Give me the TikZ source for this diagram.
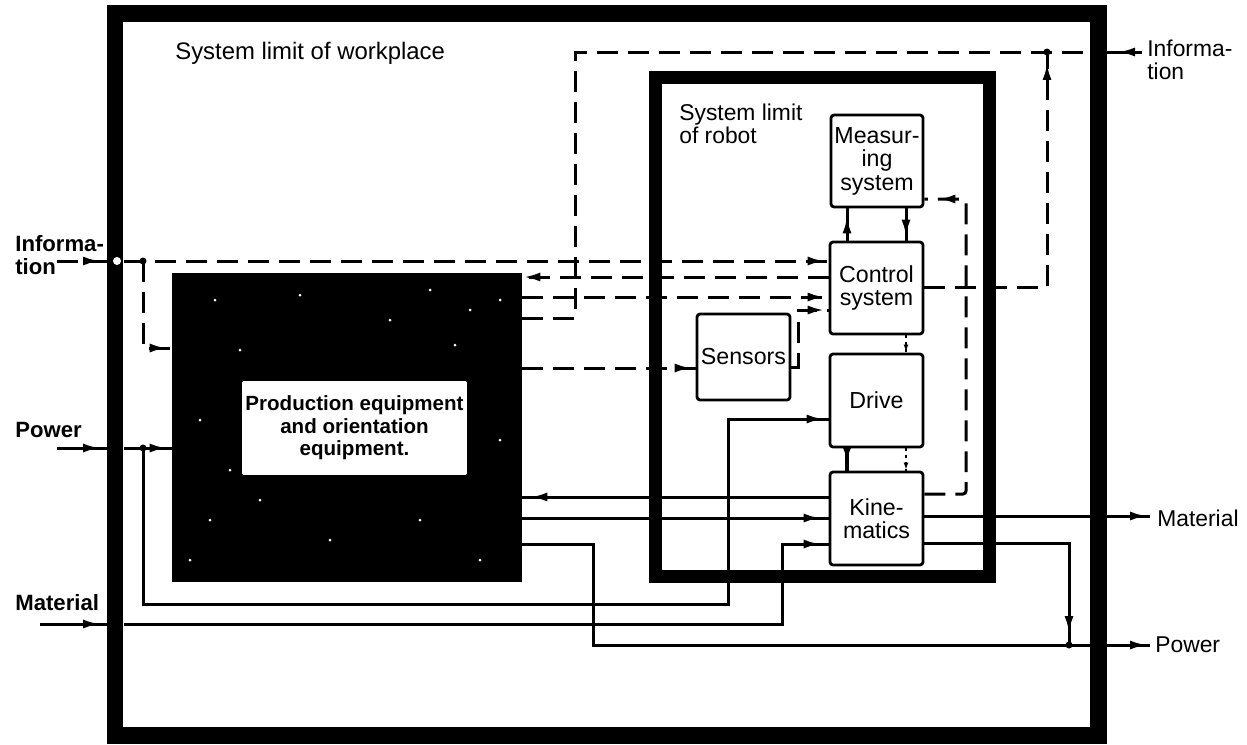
\documentclass[tikz,border=0pt]{standalone}
\usepackage{fontspec}
\setmainfont{Liberation Sans}
\usetikzlibrary{arrows.meta,decorations.markings}
\tikzset{
  tip/.style={postaction=decorate, decoration={markings, mark=at position -#1 with {\arrow{Latex[length=0.34cm,width=0.18cm]}}}},
  tip/.default=0.08cm,
  smalltip/.style={postaction=decorate, decoration={markings, mark=at position -#1 with {\arrow{Latex[length=0.14cm,width=0.1cm]}}}},
  smalltip/.default=0.02cm,
  ln/.style={line width=0.06cm},
  dsh/.style={ln, dash pattern=on 0.42cm off 0.2cm},
  dtt/.style={line width=0.04cm, dash pattern=on 0.06cm off 0.08cm},
  blk/.style={draw, line width=0.055cm, rounded corners=0.06cm, inner sep=0pt, align=center, fill=white,
    font=\fontsize{13.2}{13.4}\selectfont},
  lbl/.style={inner sep=0pt, align=left, font=\fontsize{13}{13}\selectfont},
  blbl/.style={inner sep=0pt, align=left, font=\bfseries\fontsize{12.6}{13}\selectfont},
  jdot/.style={fill=black},
}
\begin{document}
\begin{tikzpicture}[x=0.02cm,y=-0.02cm]
\useasboundingbox (0,0) rectangle (1247,744);
% workplace frame
\draw[line width=0.34cm] (115,13) rectangle (1098,735);
\node[lbl, anchor=base west, font=\fontsize{13.6}{14}\selectfont] (title) at (175,59) {System limit of workplace};
% production equipment
\node[fill=black, minimum width=7cm, minimum height=6.18cm, inner sep=0pt] (prod) at (347,427.5) {};
\node[fill=white, minimum width=4.5cm, minimum height=1.88cm, inner sep=0pt, rounded corners=0.04cm, align=center,
  font=\bfseries\fontsize{11.7}{12.8}\selectfont] (prodtxt) at (354.5,428) {Production equipment\\and orientation\\equipment.};
% speckles
\foreach \p in {(215,300),(240,350),(300,295),(390,320),(430,290),(470,310),(500,300),(210,520),(260,500),(330,540),(420,520),(480,560),(500,440),(200,420),(230,470),(455,345),(505,270),(190,560)}
  \fill[white] \p circle (1.5);
% robot frame
\draw[line width=0.26cm] (655,77) rectangle (989,576);
\node[lbl, anchor=west] (rlbl) at (679,124) {System limit\\of robot};
% blocks
\node[blk, minimum width=1.84cm, minimum height=1.84cm] (meas) at (877,161) {Measur-\\ing\\system};
\node[blk, minimum width=1.86cm, minimum height=1.84cm] (ctrl) at (876.5,288) {Control\\system};
\node[blk, minimum width=1.86cm, minimum height=1.86cm] (drive) at (876.5,400.5) {Drive};
\node[blk, minimum width=1.86cm, minimum height=1.86cm] (kin) at (876.5,518.5) {Kine-\\matics};
\node[blk, minimum width=1.86cm, minimum height=1.72cm] (sens) at (743.5,357) {Sensors};
% outside labels
\node[blbl, anchor=west] (infoLt) at (15,255) {Informa-\\tion};
\node[blbl, anchor=west] (powLt) at (15,430) {Power};
\node[blbl, anchor=west] (matLt) at (15,603) {Material};
\node[lbl, anchor=west] (infoRt) at (1147,60) {Informa-\\tion};
\node[lbl, anchor=west] (matRt) at (1157,518) {Material};
\node[lbl, anchor=west] (powRt) at (1155,645) {Power};
% coordinates
\coordinate (infoL) at (57,261);
\coordinate (infoF) at (107,261);
\coordinate (infoI) at (124,261);
\coordinate (jI) at (143,261);
\coordinate (powL) at (57,448);
\coordinate (powF) at (107,448);
\coordinate (powI) at (124,448);
\coordinate (jPw) at (143,448);
\coordinate (matL) at (40,624);
\coordinate (matF) at (107,624);
\coordinate (matI) at (124,624);
\coordinate (jT) at (1047,52);
\coordinate (infoR) at (1142,52);
\coordinate (frT) at (1098,52);
\coordinate (jP) at (1069,645);
\coordinate (powR) at (1150,645);
\coordinate (matR) at (1150,516);
% information (dashed)
\draw[dsh, tip=0.14cm] (infoL) -- (infoF);
\draw[dsh, tip] (infoI) -- (ctrl.west |- infoI);
\draw[dsh, tip=0.1cm] (jI) -- (143,348) -- (prod.west |- 0,348);
\draw[dsh, tip=0.02cm] (ctrl.west |- 0,277) -- (prod.east |- 0,277);
\draw[dsh, tip] (prod.east |- 0,297) -- (ctrl.west |- 0,297);
\draw[dsh] (prod.east |- 0,318) -- (575,318) -- (575,52) -- (jT) -- (frT);
\draw[ln, tip=0.4cm] (infoR) -- (frT);
\draw[dsh, tip=0.22cm] (ctrl.east |- 0,287) -- (1047,287) -- (jT);
\draw[dsh, tip] (prod.east |- 0,368) -- (sens.west |- 0,368);
\draw[dsh, tip] (sens.east |- 0,367) -- (798,367) -- (798,310) -- (ctrl.west |- 0,310);
\draw[dsh, tip=0.28cm, rounded corners=0.06cm] (kin.east |- 0,494) -- (966,494) -- (966,199) -- (meas.east |- 0,199);
\draw[ln, tip=0.16cm] (ctrl.north -| 847,0) -- (meas.south -| 847,0);
\draw[ln, tip=0.08cm] (meas.south -| 906,0) -- (ctrl.north -| 906,0);
\draw[dtt, smalltip] (ctrl.south -| 906,0) -- (drive.north -| 906,0);
\draw[line width=0.07cm, tip=0.14cm] (drive.south -| 847,0) -- (kin.north -| 847,0);
\draw[dtt, smalltip] (drive.south -| 906,0) -- (kin.north -| 906,0);
% power and material (solid)
\draw[ln, tip=0.14cm] (powL) -- (powF);
\draw[ln, tip=0.1cm] (powI) -- (prod.west |- powI);
\draw[ln, tip=0.1cm] (jPw) -- (143,604) -- (728,604) -- (728,419) -- (drive.west |- 0,419);
\draw[ln, tip=0.14cm] (matL) -- (matF);
\draw[ln, tip=0.16cm] (matI) -- (782,624) -- (782,544) -- (kin.west |- 0,544);
\draw[ln, tip=0.16cm] (kin.west |- 0,497) -- (prod.east |- 0,497);
\draw[ln, tip=0.16cm] (prod.east |- 0,518) -- (kin.west |- 0,518);
\draw[ln, tip=0.06cm] (prod.east |- 0,544) -- (593,544) -- (593,645) -- (jP) -- (powR);
\draw[ln, tip=0.24cm] (kin.east |- 0,543) -- (1069,543) -- (jP);
\draw[ln, tip=0.06cm] (kin.east |- 0,516) -- (matR);
% junctions
\fill[white] (117,261) circle (4);
\fill[jdot] (jI) circle (3.5);
\fill[jdot] (jPw) circle (3.5);
\fill[jdot] (jT) circle (3.5);
\fill[jdot] (jP) circle (3.5);
\end{tikzpicture}
\end{document}
